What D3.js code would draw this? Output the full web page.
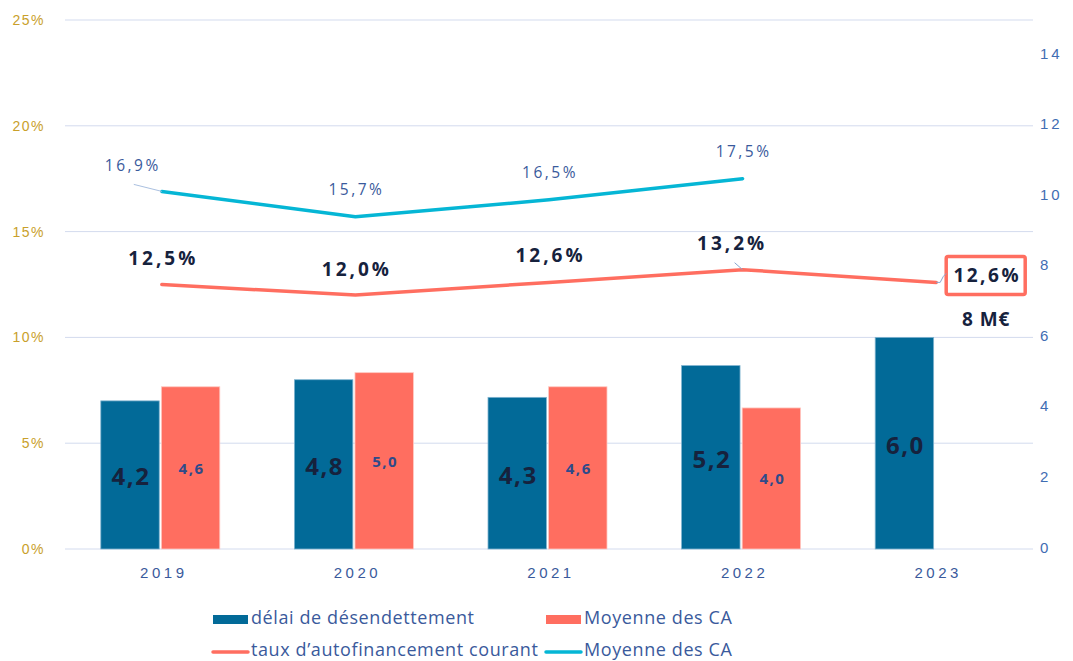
<!DOCTYPE html>
<html><head><meta charset="utf-8">
<script src="https://cdn.jsdelivr.net/npm/d3@7"></script>
<style>body{margin:0;background:#fff;} svg{display:block;font-family:"Open Sans",sans-serif;}</style>
</head><body>
<svg id="c" width="1073" height="661"></svg>
<script>
const years = ["2019","2020","2021","2022","2023"];
const delai = [4.2, 4.8, 4.3, 5.2, 6.0];
const moyenneCABars = [4.6, 5.0, 4.6, 4.0, null];
const tauxAuto = [12.5, 12.0, 12.6, 13.2, 12.6];
const moyenneCALine = [16.9, 15.7, 16.5, 17.5, null];
const leftTicks = [0, 5, 10, 15, 20, 25];
const rightTicks = [0, 2, 4, 6, 8, 10, 12, 14];
const legendLabels = ["délai de désendettement", "Moyenne des CA", "taux d’autofinancement courant", "Moyenne des CA"];

const svg = d3.select("#c");
const W = 1073, H = 661;
const m = {l: 65, r: 40, t: 20, b: 112};
const x = d3.scaleBand().domain(years).range([m.l, W - m.r]).padding(0);
const yL = d3.scaleLinear().domain([0, 25]).range([H - m.b, m.t]);
const yR = d3.scaleLinear().domain([0, 15]).range([H - m.b, m.t]);
const x1 = d3.scaleBand().domain(["a","b"]).range([-61, 58]).paddingInner(0.035);
const cx = d => x(d) + x.bandwidth() / 2;

const BLUE = "#026a98", RED = "#ff6e60", CYAN = "#05b6d5", NAVY = "#16223d", TXT = "#3a5a9c";

// gridlines
svg.append("g").selectAll("line").data(leftTicks).join("line")
  .attr("x1", m.l).attr("x2", W - m.r)
  .attr("y1", d => yL(d)).attr("y2", d => yL(d))
  .attr("stroke", "#d3dbee").attr("stroke-width", 1);

// left axis
const axL = svg.append("g").attr("transform", `translate(${m.l},0)`)
  .call(d3.axisLeft(yL).tickValues(leftTicks).tickFormat(d => d + "%").tickSize(0).tickPadding(20));
axL.select(".domain").remove();
axL.selectAll("text").attr("fill", "#c9a02a").attr("font-size", 14).attr("letter-spacing", "1.5px");

// right axis
const axR = svg.append("g").attr("transform", `translate(${W - m.r},0)`)
  .call(d3.axisRight(yR).tickValues(rightTicks).tickSize(0).tickPadding(7));
axR.select(".domain").remove();
axR.selectAll("text").attr("fill", "#3f6db3").attr("font-size", 15).attr("letter-spacing", "3px").attr("dy", "0.2em");

// x axis
const axX = svg.append("g").attr("transform", `translate(0,${H - m.b})`)
  .call(d3.axisBottom(x).tickSize(0).tickPadding(18));
axX.select(".domain").remove();
axX.selectAll("text").attr("fill", TXT).attr("font-size", 15).attr("letter-spacing", "3.5px").attr("dx", "2px");

// bars
const gB = svg.append("g");
gB.selectAll("rect.b1").data(years.map((y, i) => ({y, v: delai[i]}))).join("rect")
  .attr("x", d => cx(d.y) + x1("a")).attr("width", x1.bandwidth())
  .attr("y", d => yR(d.v)).attr("height", d => yR(0) - yR(d.v))
  .attr("fill", BLUE).attr("stroke", "#7fb3cf").attr("stroke-width", 0.8);
gB.selectAll("rect.b2").data(years.map((y, i) => ({y, v: moyenneCABars[i]})).filter(d => d.v != null)).join("rect")
  .attr("x", d => cx(d.y) + x1("b")).attr("width", x1.bandwidth())
  .attr("y", d => yR(d.v)).attr("height", d => yR(0) - yR(d.v))
  .attr("fill", RED).attr("stroke", "#ffc9c2").attr("stroke-width", 0.8);

const fmt = v => v.toFixed(1).replace(".", ",");
gB.selectAll("text.l1").data(years.map((y, i) => ({y, v: delai[i]}))).join("text")
  .attr("x", d => cx(d.y) + x1("a") + x1.bandwidth() / 2 + 1)
  .attr("y", d => (yR(d.v) + yR(0)) / 2 + 4)
  .attr("text-anchor", "middle").attr("dominant-baseline", "middle")
  .attr("font-size", 24).attr("font-weight", 700).attr("letter-spacing", "1.5px")
  .attr("fill", NAVY).text(d => fmt(d.v));
gB.selectAll("text.l2").data(years.map((y, i) => ({y, v: moyenneCABars[i]})).filter(d => d.v != null)).join("text")
  .attr("x", d => cx(d.y) + x1("b") + x1.bandwidth() / 2 + 1)
  .attr("y", d => (yR(d.v) + yR(0)) / 2 + 2)
  .attr("text-anchor", "middle").attr("dominant-baseline", "middle")
  .attr("font-size", 15).attr("font-weight", 700).attr("letter-spacing", "1.5px")
  .attr("fill", "#2e4a8a").text(d => fmt(d.v));

// lines
const lineGen = d3.line().defined(d => d.v != null).x(d => cx(d.y)).y(d => yL(d.v));
const cyanData = years.map((y, i) => ({y, v: moyenneCALine[i]}));
const redData = years.map((y, i) => ({y, v: tauxAuto[i]}));
svg.append("path").datum(cyanData).attr("d", lineGen).attr("fill", "none")
  .attr("stroke", CYAN).attr("stroke-width", 3.5).attr("stroke-linecap", "round").attr("stroke-linejoin", "round");
svg.append("path").datum(redData).attr("d", lineGen).attr("fill", "none")
  .attr("stroke", RED).attr("stroke-width", 3.5).attr("stroke-linecap", "round").attr("stroke-linejoin", "round");

// cyan labels
const cyanOff = [[-30, -20], [0, -22], [0, -22], [0, -22]];
cyanData.forEach((d, i) => {
  if (d.v == null) return;
  const lx = cx(d.y) + cyanOff[i][0], ly = yL(d.v) + cyanOff[i][1];
  svg.append("text").attr("x", lx + 1).attr("y", ly).attr("text-anchor", "middle")
    .attr("font-size", 15.5).attr("letter-spacing", "2.5px").attr("fill", TXT).text(fmt(d.v) + "%");
});
// leader 2019 cyan
svg.append("line").attr("x1", cx("2019") - 28).attr("y1", yL(16.9) - 7).attr("x2", cx("2019")).attr("y2", yL(16.9))
  .attr("stroke", "#aac0e0").attr("stroke-width", 1);

// red labels
const redOff = [[0, -20], [0, -19], [0, -20], [-12, -20]];
redData.forEach((d, i) => {
  if (i === 4) return;
  svg.append("text").attr("x", cx(d.y) + redOff[i][0] + 1.5).attr("y", yL(d.v) + redOff[i][1]).attr("text-anchor", "middle")
    .attr("font-size", 19).attr("font-weight", 700).attr("letter-spacing", "3px").attr("fill", NAVY).text(fmt(d.v) + "%");
});
svg.append("line").attr("x1", cx("2022") - 8).attr("y1", yL(13.2) - 7).attr("x2", cx("2022")).attr("y2", yL(13.2))
  .attr("stroke", "#8aa6d0").attr("stroke-width", 1);

// 2023 boxed label
const bx = cx("2023") + 49, by = yL(12.6) - 5;
svg.append("rect").attr("x", bx - 39).attr("y", by - 21).attr("width", 79).attr("height", 38)
  .attr("fill", "#fff").attr("stroke", RED).attr("stroke-width", 3.5).attr("rx", 2);
svg.append("text").attr("x", bx + 2).attr("y", by + 5).attr("text-anchor", "middle")
  .attr("font-size", 19).attr("font-weight", 700).attr("letter-spacing", "2.5px").attr("fill", NAVY).text(fmt(tauxAuto[4]) + "%");
svg.append("path").attr("d", `M${cx("2023")},${yL(12.6)} L${bx - 45},${yL(12.6)} Q${bx - 42},${yL(12.6)-7} ${bx - 39},${yL(12.6)-9}`)
  .attr("fill", "none").attr("stroke", "#8aa6d0").attr("stroke-width", 1);
svg.append("text").attr("x", bx + 1).attr("y", by + 49).attr("text-anchor", "middle")
  .attr("font-size", 19).attr("font-weight", 700).attr("letter-spacing", "1px").attr("fill", NAVY).text("8 M€");

// legend
const lg = svg.append("g").attr("font-size", 18).attr("fill", TXT);
const items = [
  {x: 213, y: 619, type: "rect", c: BLUE, t: legendLabels[0]},
  {x: 546, y: 619, type: "rect", c: RED, t: legendLabels[1]},
  {x: 213, y: 651, type: "line", c: RED, t: legendLabels[2]},
  {x: 546, y: 651, type: "line", c: CYAN, t: legendLabels[3]}
];
items.forEach(it => {
  if (it.type === "rect") lg.append("rect").attr("x", it.x).attr("y", it.y - 4).attr("width", 35).attr("height", 9).attr("fill", it.c);
  else lg.append("line").attr("x1", it.x).attr("x2", it.x + 35).attr("y1", it.y + 1).attr("y2", it.y + 1).attr("stroke", it.c).attr("stroke-width", 3.5).attr("stroke-linecap", "round");
  lg.append("text").attr("x", it.x + 38).attr("y", it.y).attr("dominant-baseline", "middle").attr("fill", TXT)
    .attr("letter-spacing", "0.6px").text(it.t);
});
</script>
</body></html>
